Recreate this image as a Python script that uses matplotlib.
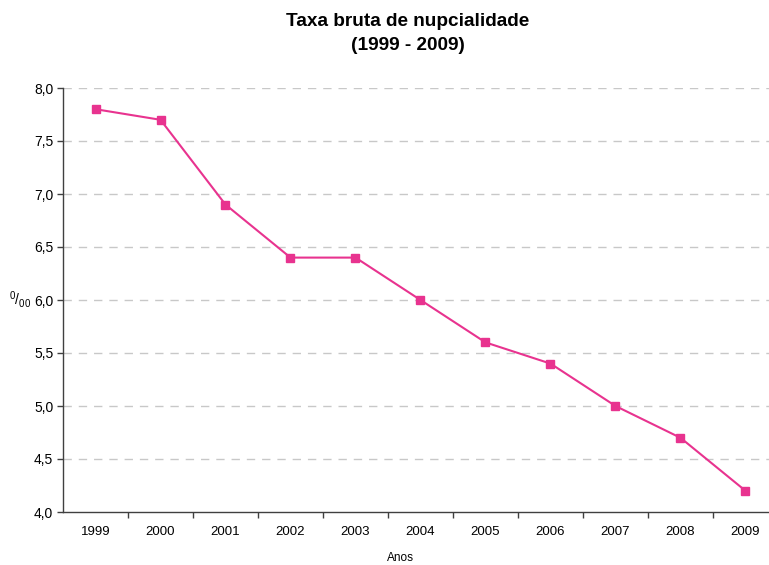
import matplotlib.pyplot as plt
import numpy as np

plt.rcParams['font.family'] = ['Liberation Sans', 'DejaVu Sans']
plt.rcParams['mathtext.fontset'] = 'custom'
plt.rcParams['mathtext.rm'] = 'Liberation Sans'

anos = ['1999', '2000', '2001', '2002', '2003', '2004', '2005', '2006', '2007', '2008', '2009']
taxa = [7.8, 7.7, 6.9, 6.4, 6.4, 6.0, 5.6, 5.4, 5.0, 4.7, 4.2]

cor = '#E8338F'

fig = plt.figure(figsize=(7.69, 5.65), dpi=100)
ax = fig.add_axes([63 / 769, 1 - 512 / 565, 715 / 769, 424 / 565])

x = np.arange(len(anos))
ax.plot(x, taxa, color=cor, linewidth=1.5, marker='s', markersize=6,
        markerfacecolor=cor, markeredgecolor=cor, zorder=3)

ax.set_xlim(-0.5, len(anos) - 0.5)
ax.set_ylim(4.0, 8.0)
yt = np.arange(4.0, 8.01, 0.5)
ax.set_yticks(yt)
ax.set_yticklabels([('%.1f' % v).replace('.', ',') for v in yt], fontsize=10)
ax.set_xticks(x)
ax.set_xticklabels(anos, fontsize=9.5)
ax.set_xticks(np.arange(0.5, len(anos) - 0.5, 1), minor=True)
ax.tick_params(axis='x', which='major', length=0, pad=10)
ax.tick_params(axis='x', which='minor', length=4, width=1, color='#404040', direction='out')
ax.tick_params(axis='y', length=4, width=1, color='#404040', direction='out', pad=3)

for v in yt[1:]:
    ax.axhline(v, color='#C8C8C8', linewidth=1, linestyle=(0, (6, 5)), zorder=1)

for s in ['top', 'right']:
    ax.spines[s].set_visible(False)
for s in ['left', 'bottom']:
    ax.spines[s].set_color('#404040')
    ax.spines[s].set_linewidth(1)

fig.text(408 / 769, 1 - 22 / 565, 'Taxa bruta de nupcialidade', ha='center', va='center',
         fontsize=13.7, fontweight='bold')
fig.text(408 / 769, 1 - 46 / 565, '(1999 - 2009)', ha='center', va='center',
         fontsize=13.7, fontweight='bold')
fig.text(400 / 769, 1 - 558 / 565, 'Anos', ha='center', va='center', fontsize=8.5)
fig.text(20 / 769, 1 - 300 / 565, r'$\mathregular{^0/_{00}}$', ha='center', va='center', fontsize=10)

fig.savefig('out.png', dpi=100)
